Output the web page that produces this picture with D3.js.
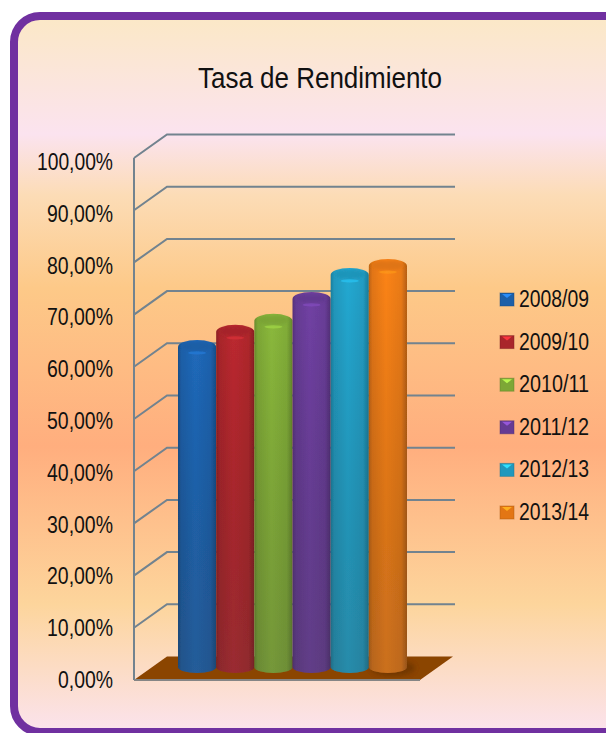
<!DOCTYPE html>
<html><head><meta charset="utf-8">
<script src="https://cdn.jsdelivr.net/npm/d3@7"></script>
<style>html,body{margin:0;padding:0;background:#fff;overflow:hidden}svg{display:block}text{font-family:"Liberation Sans",Arial,sans-serif;fill:#111}</style>
</head><body><div id="c"></div>
<script>
const categories=["2008/09","2009/10","2010/11","2011/12","2012/13","2013/14"];
const values=[61.5,64.4,66.5,70.7,75.3,77.0];
const tickValues=[0,10,20,30,40,50,60,70,80,90,100];
const tickLabels=["0,00%","10,00%","20,00%","30,00%","40,00%","50,00%","60,00%","70,00%","80,00%","90,00%","100,00%"];
const seriesColors=["#1f66b4","#b5282e","#86b33a","#6d3f9e","#23a3cb","#f47f16"];
const title="Tasa de Rendimiento";
const W=606,H=733;
const svg=d3.select("#c").append("svg").attr("width",W).attr("height",H);
const defs=svg.append("defs");
const bg=defs.append("linearGradient").attr("id","bg").attr("gradientUnits","userSpaceOnUse").attr("x1",0).attr("x2",0).attr("y1",16).attr("y2",733);
[[0,"#fbe8c6"],[.165,"#fbe3ef"],[.25,"#fcdcb6"],[.38,"#fdc988"],[.6,"#ffae7e"],[.82,"#fdd59c"],[1,"#fbe3ee"]].forEach(s=>bg.append("stop").attr("offset",s[0]).attr("stop-color",s[1]));
defs.append("filter").attr("id","soft").append("feGaussianBlur").attr("stdDeviation",.6);
defs.append("filter").attr("id","softer").append("feGaussianBlur").attr("stdDeviation",1.5);
defs.append("filter").attr("id","blur").append("feGaussianBlur").attr("stdDeviation",2.2);
svg.append("rect").attr("x",14).attr("y",16).attr("width",640).attr("height",716).attr("rx",26).attr("fill","url(#bg)").attr("stroke","#7030a0").attr("stroke-width",8);
svg.append("text").attr("x",320).attr("y",88).attr("text-anchor","middle").attr("font-size",30).attr("textLength",244).attr("lengthAdjust","spacingAndGlyphs").text(title);

const y=d3.scaleLinear().domain([0,100]).range([680,158]);
const labelY=d3.scaleLinear().domain([0,100]).range([688,170]);
const x=d3.scaleBand().domain(categories).range([178,407]);
const dx=33,dy=-23.5,gridEnd=455,frontEnd=420;
const axisCol="#72838f";
const chart=svg.append("g").attr("filter","url(#soft)");
const grid=chart.append("g").attr("fill","none").attr("stroke",axisCol).attr("stroke-width",2);
tickValues.filter(v=>v>0).forEach(v=>{
  grid.append("polyline").attr("points",[[134,y(v)],[134+dx,y(v)+dy],[gridEnd,y(v)+dy]].join(" "));
});
chart.append("polygon").attr("points",[[134,y(0)],[frontEnd,y(0)],[frontEnd+dx,y(0)+dy],[134+dx,y(0)+dy]].join(" ")).attr("fill","#8b4404");
chart.append("line").attr("x1",134).attr("x2",134).attr("y1",y(100)).attr("y2",y(0)).attr("stroke",axisCol).attr("stroke-width",2);
chart.append("line").attr("x1",134).attr("x2",frontEnd).attr("y1",y(0)).attr("y2",y(0)).attr("stroke","#858585").attr("stroke-width",2);
svg.append("g").selectAll("text").data(tickValues).join("text")
  .attr("x",113).attr("y",d=>labelY(d)).attr("text-anchor","end").attr("font-size",23)
  .attr("textLength",(d,i)=>tickLabels[i].length>6?76:(tickLabels[i].length>5?66:55)).attr("lengthAdjust","spacingAndGlyphs")
  .text((d,i)=>tickLabels[i]);

seriesColors.forEach((c,i)=>{
  const g=defs.append("linearGradient").attr("id","b"+i);
  const base=d3.color(c);
  [[0,base.darker(.7)],[.09,base.darker(.2)],[.45,base.brighter(.1)],[.85,base.darker(.1)],[1,base.darker(.8)]]
    .forEach(s=>g.append("stop").attr("offset",s[0]).attr("stop-color",s[1]));
});
const fade=defs.append("linearGradient").attr("id","fade").attr("x1",0).attr("x2",0).attr("y1",0).attr("y2",1);
fade.append("stop").attr("offset",0).attr("stop-color","#000").attr("stop-opacity",0);
fade.append("stop").attr("offset",1).attr("stop-color","#333").attr("stop-opacity",.25);

const base0=y(0)-13, scaleV=v=>y(v)-12, ry=7;
const rad=x.bandwidth()/2;
const body=(d)=>{const l=x(d.c),r=l+x.bandwidth(),t=scaleV(d.v),b=base0;
  return `M${l},${t}L${l},${b}A${rad},${ry-1} 0 0 0 ${r},${b}L${r},${t}A${rad},${ry} 0 0 0 ${l},${t}Z`;};
const rows=categories.map((c,i)=>({c,v:values[i],i}));
const bars=chart.append("g");
bars.append("ellipse").attr("cx",x(categories[5])+rad+5).attr("cy",base0+1).attr("rx",rad+3).attr("ry",ry+1).attr("fill","#5f2e02").attr("opacity",.55).attr("filter","url(#blur)");
const g=bars.selectAll("g.bar").data(rows).join("g").attr("class","bar");
g.append("path").attr("d",body).attr("fill",d=>`url(#b${d.i})`);
g.append("path").attr("d",body).attr("fill","url(#fade)");
g.append("ellipse").attr("cx",d=>x(d.c)+rad).attr("cy",d=>scaleV(d.v)-.5).attr("rx",rad-4).attr("ry",ry-2).attr("fill",d=>d3.color(seriesColors[d.i]).darker(.3)).attr("filter","url(#softer)").attr("opacity",.8);
g.append("ellipse").attr("cx",d=>x(d.c)+rad).attr("cy",d=>scaleV(d.v)+6).attr("rx",9).attr("ry",1.6).attr("fill",d=>d3.color(seriesColors[d.i]).brighter(.6)).attr("filter","url(#soft)").attr("opacity",.6);

const ly=d3.scalePoint().domain(categories).range([300,513]);
const lg=svg.append("g").selectAll("g").data(rows).join("g").attr("transform",d=>`translate(500,${ly(d.c)})`);
lg.append("rect").attr("x",0).attr("y",-7).attr("width",14).attr("height",13).attr("fill",d=>d3.color(seriesColors[d.i]).darker(.2)).attr("stroke",d=>d3.color(seriesColors[d.i]).darker(1)).attr("stroke-opacity",.45);
lg.append("polygon").attr("points","2,-6 12,-6 7,-2").attr("fill",d=>d3.color(seriesColors[d.i]).brighter(.9));
lg.append("text").attr("x",19).attr("y",7).attr("font-size",23).attr("textLength",70).attr("lengthAdjust","spacingAndGlyphs").text(d=>d.c);
</script></body></html>
